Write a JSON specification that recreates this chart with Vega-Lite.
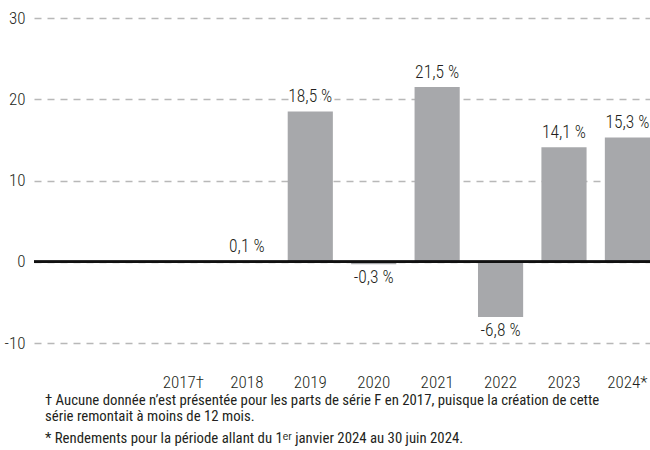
{
  "$schema": "https://vega.github.io/schema/vega-lite/v6.json",
  "width": 616,
  "height": 325,
  "autosize": {"type": "none"},
  "padding": {"left": 34, "top": 18, "right": 0, "bottom": 107},
  "background": "white",
  "config": {
    "font": "Roboto Condensed, Liberation Sans Narrow, Roboto, sans-serif",
    "view": {"stroke": null}
  },
  "title": {
    "text": ["† Aucune donnée n’est présentée pour les parts de série F en 2017, puisque la création de cette", "\u00a0\u00a0série remontait à moins de 12 mois."],
    "subtitle": "* Rendements pour la période allant du 1ᵉʳ janvier 2024 au 30 juin 2024.",
    "orient": "bottom",
    "anchor": "start",
    "frame": "group",
    "dx": 11,
    "offset": 3,
    "fontSize": 14.8,
    "fontWeight": 400,
    "lineHeight": 16,
    "color": "#231f20",
    "subtitleFontSize": 14.8,
    "subtitleFontWeight": 400,
    "subtitleColor": "#231f20",
    "subtitlePadding": 7,
    "subtitleFont": "Roboto Condensed, Liberation Sans Narrow, Roboto, sans-serif"
  },
  "data": {
    "values": [
      {"year": "2018", "value": 0.1},
      {"year": "2019", "value": 18.5},
      {"year": "2020", "value": -0.3},
      {"year": "2021", "value": 21.5},
      {"year": "2022", "value": -6.8},
      {"year": "2023", "value": 14.1},
      {"year": "2024", "value": 15.3}
    ]
  },
  "transform": [
    {"calculate": "replace(replace(format(datum.value, '.1f'), '.', ','), '\u2212', '-') + ' %'", "as": "label"}
  ],
  "layer": [
    {
      "mark": {"type": "bar", "color": "#a7a8ab"},
      "encoding": {
        "x": {
          "field": "year", "type": "ordinal",
          "scale": {"domain": ["2017", "2018", "2019", "2020", "2021", "2022", "2023", "2024"], "paddingInner": 0.288, "paddingOuter": 1.07, "align": 1},
          "axis": {
            "title": null, "domain": false, "ticks": false, "labelAngle": 0,
            "labelPadding": 31, "labelFontSize": 17, "labelFontWeight": 300, "labelColor": "#231f20",
            "labelExpr": "datum.value == '2017' ? '2017†' : (datum.value == '2024' ? '2024*' : datum.label)"
          }
        },
        "y": {
          "field": "value", "type": "quantitative",
          "scale": {"domain": [-10, 30], "nice": false},
          "axis": {
            "title": null, "domain": false, "ticks": false,
            "values": [-10, 0, 10, 20, 30],
            "labelPadding": 9, "labelFontSize": 17, "labelFontWeight": 300, "labelColor": "#231f20",
            "labelExpr": "replace(datum.label, '\u2212', '-')",
            "grid": true, "gridDash": [7, 6], "gridColor": "#b8b8b8", "gridWidth": 1.3
          }
        }
      }
    },
    {
      "mark": {"type": "rule", "color": "#111111", "strokeWidth": 2.2},
      "encoding": {"y": {"datum": 0, "type": "quantitative"}}
    },
    {
      "transform": [{"filter": "datum.value >= 0"}],
      "mark": {"type": "text", "baseline": "bottom", "dy": -5, "fontSize": 17.5, "fontWeight": 300, "color": "white", "stroke": "white", "strokeWidth": 6},
      "encoding": {
        "x": {"field": "year", "type": "ordinal"},
        "y": {"field": "value", "type": "quantitative"},
        "text": {"field": "label"}
      }
    },
    {
      "transform": [{"filter": "datum.value < 0"}],
      "mark": {"type": "text", "baseline": "top", "dy": 5, "fontSize": 17.5, "fontWeight": 300, "color": "white", "stroke": "white", "strokeWidth": 6},
      "encoding": {
        "x": {"field": "year", "type": "ordinal"},
        "y": {"field": "value", "type": "quantitative"},
        "text": {"field": "label"}
      }
    },
    {
      "transform": [{"filter": "datum.value >= 0"}],
      "mark": {"type": "text", "baseline": "bottom", "dy": -5, "fontSize": 17.5, "fontWeight": 300, "color": "#231f20"},
      "encoding": {
        "x": {"field": "year", "type": "ordinal"},
        "y": {"field": "value", "type": "quantitative"},
        "text": {"field": "label"}
      }
    },
    {
      "transform": [{"filter": "datum.value < 0"}],
      "mark": {"type": "text", "baseline": "top", "dy": 5, "fontSize": 17.5, "fontWeight": 300, "color": "#231f20"},
      "encoding": {
        "x": {"field": "year", "type": "ordinal"},
        "y": {"field": "value", "type": "quantitative"},
        "text": {"field": "label"}
      }
    }
  ]
}
